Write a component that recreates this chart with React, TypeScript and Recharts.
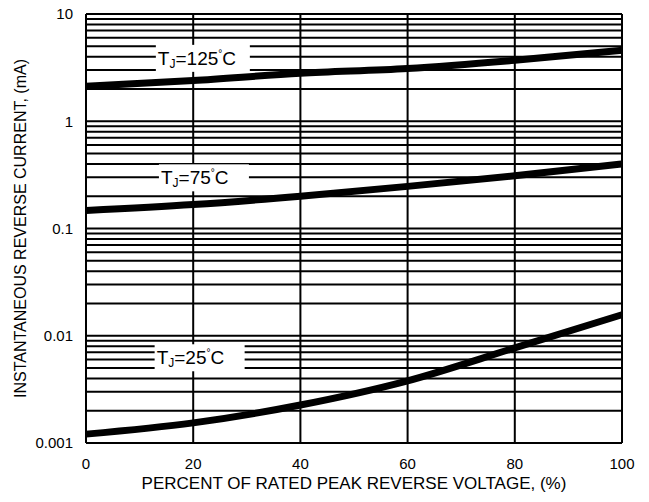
import { Line, LineChart, ReferenceDot, ReferenceLine, XAxis, YAxis } from "recharts"

const voltagePct = [0, 20, 40, 60, 80, 100]
const current125 = [2.12, 2.4, 2.8, 3.1, 3.7, 4.6]
const current75 = [0.147, 0.167, 0.2, 0.247, 0.31, 0.4]
const current25 = [0.00121, 0.00154, 0.00226, 0.0038, 0.0077, 0.0157]

const xTicks = [0, 20, 40, 60, 80, 100]
const yTicks = [0.001, 0.01, 0.1, 1, 10]
const yTickLabels = ["0.001", "0.01", "0.1", "1", "10"]

// minor log grid, 1..9 per decade
const decades = [0.001, 0.01, 0.1, 1]
const gridY = [...decades.flatMap((d) => [1, 2, 3, 4, 5, 6, 7, 8, 9].map((m) => +(d * m).toPrecision(3))), 10]

const curveLabels = [
  { temp: "125", x: 21.8, y: 3.9 },
  { temp: "75", x: 22.0, y: 0.3 },
  { temp: "25", x: 21.2, y: 0.0063 },
]

const data = voltagePct.map((v, i) => ({
  v,
  t125: current125[i],
  t75: current75[i],
  t25: current25[i],
}))

const font = "Arial, 'Liberation Sans', sans-serif"

const LabelBox = ({ cx, cy, temp }: any) => {
  const w = temp.length === 3 ? 94 : 90
  return (
    <g>
      <rect x={cx - w / 2} y={cy - 13} width={w} height={27} fill="#fff" />
      <text x={cx - w / 2 + 2} y={cy + 7} fontFamily={font} fontSize={19} fill="#000">
        T
        <tspan fontSize={12} dy={3}>J</tspan>
        <tspan dy={-3}>={temp}</tspan>
        <tspan fontSize={10} dy={-8}>°</tspan>
        <tspan dy={8}>C</tspan>
      </text>
    </g>
  )
}

const YTitle = ({ viewBox }: any) => {
  const cy = viewBox.y + viewBox.height / 2
  return (
    <text
      x={20}
      y={cy}
      transform={`rotate(-90, 20, ${cy})`}
      textAnchor="middle"
      dominantBaseline="central"
      fontFamily={font}
      fontSize={16}
      fill="#000"
    >
      INSTANTANEOUS REVERSE CURRENT, (mA)
    </text>
  )
}

const XTitle = ({ viewBox }: any) => {
  const cx = viewBox.x + viewBox.width / 2
  return (
    <text x={cx} y={489} textAnchor="middle" fontFamily={font} fontSize={17} fill="#000">
      PERCENT OF RATED PEAK REVERSE VOLTAGE, (%)
    </text>
  )
}

export default function App() {
  return (
    <div style={{ position: "absolute", left: 0, top: 0, background: "#fff" }}>
      <LineChart width={649} height={502} data={data} margin={{ top: 14, right: 27, bottom: 19, left: 26 }}>
        {gridY.map((g) => (
          <ReferenceLine key={"h" + g} y={g} stroke="#000" strokeWidth={2} />
        ))}
        {xTicks.map((t) => (
          <ReferenceLine key={"v" + t} x={t} stroke="#000" strokeWidth={2} />
        ))}
        <XAxis
          dataKey="v"
          type="number"
          domain={[0, 100]}
          ticks={xTicks}
          height={40}
          axisLine={false}
          tickLine={false}
          tick={{ fill: "#000", fontSize: 15, fontFamily: font }}
          tickMargin={9}
          label={{ content: XTitle }}
        />
        <YAxis
          type="number"
          scale="log"
          domain={[0.001, 10]}
          ticks={yTicks}
          allowDataOverflow
          width={60}
          axisLine={false}
          tickLine={false}
          tickMargin={7}
          tickFormatter={(v: number) => yTickLabels[yTicks.indexOf(v)] ?? String(v)}
          tick={{ fill: "#000", fontSize: 15, fontFamily: font }}
          label={{ content: YTitle }}
        />
        <Line dataKey="t125" type="monotone" stroke="#000" strokeWidth={7} dot={false} isAnimationActive={false} />
        <Line dataKey="t75" type="monotone" stroke="#000" strokeWidth={7} dot={false} isAnimationActive={false} />
        <Line dataKey="t25" type="monotone" stroke="#000" strokeWidth={7} dot={false} isAnimationActive={false} />
        {curveLabels.map((l) => (
          <ReferenceDot
            key={l.temp}
            x={l.x}
            y={l.y}
            r={0}
            shape={(p: any) => <LabelBox {...p} temp={l.temp} />}
          />
        ))}
      </LineChart>
    </div>
  )
}
